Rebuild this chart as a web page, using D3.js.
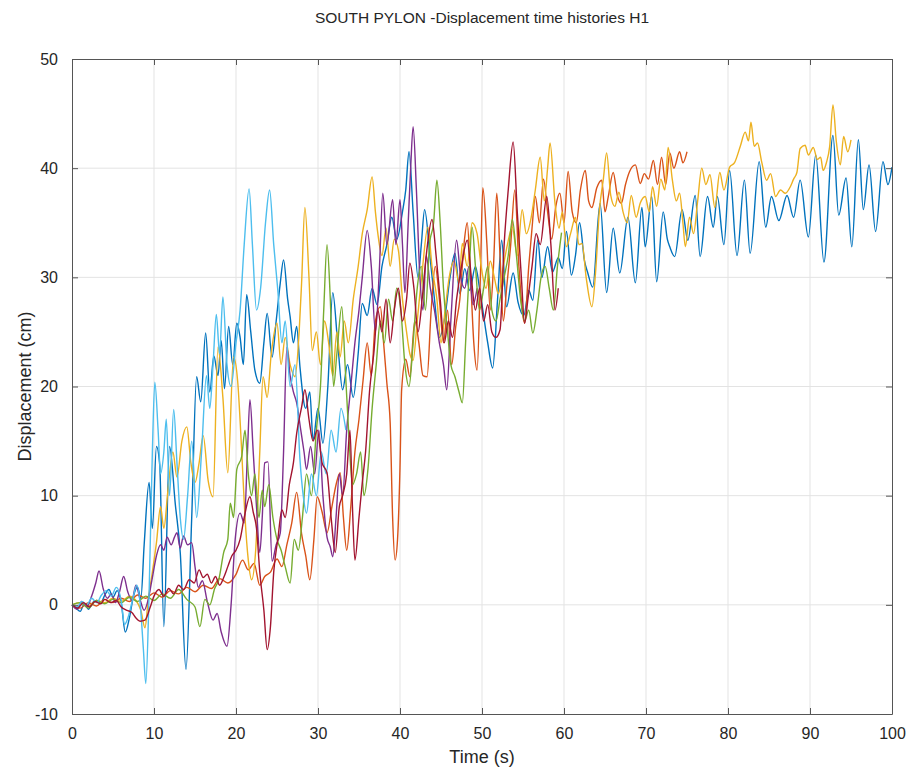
<!DOCTYPE html>
<html>
<head>
<meta charset="utf-8">
<script src="https://cdn.jsdelivr.net/npm/d3@7"></script>
<style>
  body { margin: 0; background: #fff; }
  svg text { font-family: "Liberation Sans", Arial, sans-serif; fill: #262626; }
</style>
</head>
<body>
<svg id="chart"></svg>
<script>
// time histories, [time s, displacement cm]
const blue = [[0,0],[0.5,-0.3],[1,-0.6],[1.5,0.1],[2,-0.4],[2.5,0.2],[3,0.4],[3.5,0.2],[4,0.9],[4.5,1.4],[5,0.7],[5.5,1.3],[6,0.2],[6.5,-2.5],[7,-1.2],[7.5,0.8],[8,1.6],[8.4,0.6],[8.8,5.5],[9.4,11.2],[9.8,7],[10.3,14.5],[10.7,12.8],[11.2,-2],[11.9,14.5],[12.6,9.2],[13.2,4.8],[13.9,-5.9],[14.6,8],[15.2,20.9],[15.7,18.6],[16.3,24.9],[16.8,19.5],[17.3,22.8],[17.8,21],[18.2,24.2],[18.6,19.8],[19.1,25.5],[19.6,22],[20.1,25.8],[20.5,24.5],[20.9,22],[21.3,28.4],[21.8,25],[22.3,21.5],[22.9,20.3],[23.4,24],[23.8,26.7],[24.4,22.7],[24.9,26],[25.4,29.5],[25.8,31.6],[26.3,28],[26.6,26.4],[27,24],[27.4,25.5],[27.8,21.8],[28.5,18],[29,19.5],[29.4,15.1],[30,18],[30.6,14.8],[31.2,20],[31.8,28.6],[32.4,24],[33,19.7],[33.6,22],[34.3,19],[34.9,23],[35.4,27.6],[36,26.5],[36.6,29],[37.2,27.5],[37.8,31],[38.4,33],[39,35.5],[39.6,33.5],[40.3,36],[40.7,38],[41.1,41.5],[41.6,36],[42.2,30],[42.6,33],[43,36.2],[43.7,31.6],[44.2,28],[44.8,24.5],[45.5,26.5],[46.1,30],[46.7,32.2],[47.3,28.5],[47.9,30.8],[48.5,28.8],[49.2,31],[49.7,29],[50.1,27],[50.7,24],[51.3,21.7],[51.9,28],[52.4,33.4],[53,27.3],[53.8,30.4],[54.4,27.7],[55.1,26.5],[55.7,28.8],[56.2,27.9],[56.8,33.4],[57.3,30],[58,32.8],[58.6,30.5],[59.3,31.8],[59.8,30.8],[60.3,34.2],[60.9,30.2],[61.4,32],[61.9,35],[62.5,31.5],[62.9,30.4],[63.5,29.1],[64.4,36.8],[65.2,28.6],[66,34.5],[66.8,30.4],[67.8,35.5],[68.7,29.5],[69.5,36.4],[69.9,32.8],[70.7,37.4],[71.3,29.6],[72.1,36],[72.6,33.5],[72.9,32.8],[73.5,31.9],[74.4,36.2],[75.1,33.4],[76,37.5],[76.6,31.9],[77.5,37.4],[78.2,34.6],[78.7,37.4],[79.5,33],[80.2,39.8],[81.1,32],[82,38.9],[82.7,32.2],[83.8,40.6],[84.6,34.6],[85.3,37.4],[86.2,35.2],[87.2,37.5],[88,35.5],[88.8,38.9],[89.8,33.7],[90.7,41.2],[91.7,31.4],[92.8,43],[93.5,35.7],[94.4,39.1],[95.1,32.8],[95.9,42.6],[96.5,36.2],[97.2,40.3],[98,34.2],[98.9,40.6],[99.5,38.5],[100,40.1]];

const orange = [[0,0],[1,-0.3],[2,0.2],[3,-0.1],[4,0.5],[5,0.2],[6,0.6],[7,0.3],[8,0.9],[9,0.6],[10,1.1],[11,0.7],[12,1.3],[13,1],[14,1.6],[15,1.2],[16,1.8],[17,1.5],[18,2.4],[19,2],[20,2.8],[20.8,4.1],[21.5,3.2],[22.2,3.8],[22.9,1.8],[23.5,2.6],[24.2,3],[25,4.2],[25.6,3.5],[26.2,5.5],[26.8,7.5],[27.4,10.3],[28,6.5],[28.5,4.5],[29,2.3],[29.5,6],[29.9,9.9],[30.5,8.5],[31.1,6.6],[31.7,9],[32.2,11],[32.7,12.1],[33.1,8],[33.5,5],[34,9],[34.5,14],[35,17],[35.5,20.6],[36,24],[36.5,21],[37,26],[37.6,27.3],[38,24],[38.4,20.3],[38.8,16.7],[39.1,8],[39.4,4.1],[39.7,6],[40,12.6],[40.2,19.7],[40.7,22.5],[41.2,20.9],[41.8,26],[42.3,24],[42.8,21],[43.3,20.9],[43.8,27],[44.3,31],[44.8,28],[45.3,24],[45.8,27],[46.3,22],[46.8,25.5],[47.3,28],[47.8,33],[48.2,35],[48.6,30],[49,24],[49.4,21.5],[49.8,30],[50.1,38.2],[50.6,33],[51,27],[51.4,31],[51.8,37.7],[52.2,32],[52.6,26],[53,29],[53.5,33],[54,38],[54.5,31],[55.2,25.8],[55.7,31],[56.1,34.5],[56.5,37.4],[57,35],[57.5,39],[58,36],[58.5,33.5],[59,36.5],[59.5,37.7],[60,35],[60.5,39.7],[61,36],[61.5,35],[62,38],[62.6,39.8],[63,37],[63.4,36.4],[64,38.2],[64.6,38.9],[65,36],[65.4,37.4],[66,39.6],[66.5,37.5],[67,36.8],[67.5,38.5],[68,39.7],[68.7,40.3],[69.3,38.6],[69.8,39.5],[70.3,39],[70.9,40.7],[71.4,38.5],[71.9,41],[72.4,38.5],[72.9,41.4],[73.4,40],[74.1,41.5],[74.5,40.5],[75,41.5]];

const yellow = [[0,0],[1,0.2],[2,-0.1],[3,0.4],[4,0.2],[5,0.6],[6,0.3],[7,0.8],[7.8,0.4],[8.4,-0.5],[8.9,-2.1],[9.3,0.5],[9.8,3],[10.3,5.7],[10.8,9],[11.2,7],[11.7,10.5],[12.3,14],[12.8,11.7],[13.4,15],[14,16.3],[14.5,13],[15,11.2],[15.5,13],[16,15.5],[16.6,11.4],[17.2,9.9],[17.8,23.6],[18.4,19],[19,12.1],[19.7,22.7],[20.2,20.5],[20.7,14],[21.1,8],[21.5,4.1],[21.9,2.3],[22.4,5],[22.9,14],[23.3,20.9],[23.8,19],[24.3,23],[25,25.8],[25.5,22],[26,24.5],[26.6,22],[27.2,20.9],[27.7,25],[28,29.5],[28.4,36.4],[28.9,30],[29.3,23.3],[29.8,25],[30.3,22],[30.8,26],[31.3,24],[31.8,21],[32.3,25],[32.7,22.7],[33.2,26],[33.7,24],[34.3,28],[34.9,31],[35.4,34],[36,36.2],[36.6,39.2],[37,36],[37.3,34],[37.8,32],[38.3,34.5],[38.8,31],[39.3,33.5],[39.8,32.5],[40.3,28],[40.8,25],[41.2,23],[41.6,22.4],[42.1,26],[42.7,30.5],[43.4,34.6],[43.9,31],[44.5,28],[45,24],[45.5,27],[46,30],[46.6,31.5],[47.2,29.5],[47.6,33.1],[48.2,31],[48.8,35],[49.4,34],[49.9,31],[50.5,29],[51,31.5],[51.5,30],[52,28.5],[52.6,31],[53.1,33],[53.7,34.6],[54.3,32],[54.9,36.2],[55.4,34],[56,35.5],[56.5,38],[57.1,41],[57.6,37],[58,40],[58.3,42.3],[58.9,36.8],[59.4,34.5],[59.8,36],[60.3,32.8],[60.8,34],[61.4,35.5],[61.8,33],[62.2,33.1],[62.7,30],[63.4,27.3],[63.9,31],[64.3,36],[64.8,39],[65.2,41.4],[65.7,37.5],[66.2,36.5],[66.7,37.8],[67.2,36],[67.7,35],[68.2,37.5],[68.8,35.5],[69.3,36.8],[69.9,37.4],[70.4,36],[70.8,38.3],[71.3,36.5],[71.8,39],[72.3,38],[72.7,41.9],[73.2,39],[73.7,37],[74.1,37.7],[74.5,35],[74.8,32.8],[75.3,35.5],[75.8,34],[76.3,37],[76.8,40],[77.3,38.5],[77.8,39.4],[78.4,36.4],[79,39.6],[79.5,38],[80.2,40.1],[80.8,40.5],[81.5,42],[82.1,43.3],[82.5,42.5],[82.8,44.2],[83.2,42],[83.6,42.3],[84.1,40.6],[84.7,38.9],[85.2,39.5],[85.8,37.4],[86.4,38],[87,37.7],[87.6,38.3],[88,39],[88.4,39.6],[88.8,41.8],[89.4,42.1],[89.8,41.2],[90.4,41.9],[90.9,40.8],[91.3,41],[91.6,39.8],[92,40.5],[92.4,42],[92.8,45.8],[93.2,42.5],[93.7,40.3],[94.1,42.9],[94.6,41.5],[95,42.6]];

const purple = [[0,0],[0.6,-0.4],[1.2,0.3],[1.8,-0.2],[2.4,0.8],[2.9,2],[3.3,3.1],[3.8,1.5],[4.3,0.6],[4.8,1],[5.3,0.2],[5.8,1.2],[6.3,2.6],[6.8,1.2],[7.3,0.4],[7.8,1.8],[8.3,0.5],[8.8,-0.5],[9.3,0.5],[9.8,2.5],[10.3,4.5],[10.8,5.5],[11.2,5],[11.6,6.2],[12.1,5.5],[12.5,6.2],[12.8,6.6],[13.2,5.2],[13.6,6.3],[14.1,5.5],[14.6,5.7],[15,3.5],[15.4,1.6],[15.9,2.2],[16.5,0.3],[17.2,-1.4],[17.7,-0.8],[18.2,-2.5],[18.9,-3.8],[19.4,0],[19.9,6],[20.5,8.4],[21,7.5],[21.4,14],[21.7,18.8],[22.1,14],[22.5,9],[22.9,4.8],[23.2,8],[23.5,13],[23.9,13.1],[24.4,4],[24.9,5.5],[25.4,6.6],[25.8,14],[26.2,23.6],[26.6,21],[27,19.5],[27.4,18.5],[27.9,16],[28.3,14],[28.6,12.4],[29.1,14.5],[29.6,12],[30.1,16],[30.6,10],[31.1,6.2],[31.5,5.3],[31.8,4.4],[32.2,8],[32.6,12],[33,10],[33.5,16],[34,20],[34.5,24],[35,27],[35.4,30],[36,34.3],[36.5,31],[37,25],[37.5,31],[37.9,37.7],[38.4,33],[39.1,37.1],[39.5,33],[40,37.1],[40.3,33],[40.6,28.6],[41,35],[41.3,40],[41.6,43.8],[42,38],[42.4,30.4],[42.8,27],[43.2,32],[43.7,29],[44.2,27],[44.8,24],[45.3,22],[45.7,19.7],[46.2,26],[46.9,33.4],[47.4,30],[47.9,29],[48.4,31],[48.9,27.5],[49.4,29]];

const green = [[0,0],[1,0.2],[2,-0.3],[3,0.4],[4,0.1],[5,0.5],[6,0.2],[7,0.7],[8,0.3],[9,0.8],[10,0.4],[11,1],[12,0.6],[13,1.4],[14,0.5],[15,-0.2],[15.6,-2],[16.2,0.5],[16.8,0],[17.4,1.5],[17.9,2.3],[18.5,4.8],[19,6],[19.3,9.3],[19.7,8],[20.1,12.4],[20.7,13.6],[21.1,16],[21.5,12],[21.9,10],[22.3,12],[22.8,8],[23.2,10.5],[23.5,9],[24,11],[24.5,8],[25,6],[25.5,5],[26,3.5],[26.6,2],[27.1,6],[27.6,5],[28.1,8],[28.6,12],[29.2,10],[29.8,16],[30.3,20],[30.7,27],[31.1,33],[31.5,28],[31.9,20],[32.3,23],[32.9,27.3],[33.3,22],[33.8,15],[34.2,11],[34.7,12],[35.2,14],[35.6,10],[36.1,12.5],[36.6,18],[37.1,22],[37.6,26],[38.1,24],[38.6,28],[39.1,26],[39.6,29],[40.1,27],[40.6,22],[41.1,20],[41.6,24],[42.1,29],[42.6,31],[43.1,27],[43.6,33],[44.1,35],[44.5,38.9],[44.9,35],[45.3,29],[45.8,25],[46.2,22],[46.7,20.9],[47.2,19.5],[47.6,18.5],[48,24],[48.4,30],[48.8,34.6],[49.2,31],[49.7,27],[50.2,29],[50.7,31],[51.2,27],[51.7,26],[52.2,28],[52.7,30],[53.2,32],[53.7,35.3],[54.2,32],[54.7,28],[55.2,26],[55.7,27],[56.2,24.9],[56.7,27],[57.2,30],[57.7,31],[58.2,29],[58.7,27],[59.2,31],[59.7,34.1]];

const lightBlue = [[0,0],[0.6,-0.2],[1.2,0.3],[1.8,0],[2.4,0.6],[3,0.2],[3.6,0.9],[4.2,1.3],[4.8,0.8],[5.4,1.6],[6,0.4],[6.4,-1.8],[6.9,-1],[7.4,0.5],[7.9,1.8],[8.3,0.2],[8.7,-4],[9,-7.2],[9.4,1],[9.8,14],[10.1,20.4],[10.5,16],[10.8,12],[11.2,14],[11.5,17],[11.9,10],[12.4,17.9],[12.8,13],[13.2,8],[13.6,6],[14.1,10],[14.6,15],[15.2,8],[15.8,14],[16.4,21],[16.8,18],[17.2,22],[17.6,26.6],[18,23],[18.4,28.2],[18.9,22],[19.4,20],[20,24],[20.5,27],[21,33],[21.6,38.1],[22,33],[22.5,27],[23,29],[23.6,35],[24.1,38],[24.6,33],[25.1,28.8],[25.6,24],[26,26],[26.6,20],[27.2,22],[27.8,13.3],[28.2,10],[28.6,8.4],[29.2,12],[29.8,10],[30.4,14],[31,12],[31.6,16],[32.2,14],[32.8,18],[33.4,16]];

const darkRed = [[0,0],[0.7,-0.3],[1.4,0.2],[2.1,-0.2],[2.8,0.3],[3.5,0.1],[4,0.5],[4.7,0.2],[5.4,0.4],[6,-0.2],[6.7,-0.5],[7.3,-0.7],[7.8,-1.2],[8.3,-1.5],[8.9,-1.4],[9.5,-0.3],[10,0.8],[10.6,1.4],[11.2,0.8],[11.8,1.5],[12.4,1],[13,1.8],[13.6,1.4],[14.3,2.3],[14.9,2],[15.5,3.2],[16,2.5],[16.5,2.8],[17,2],[17.5,2.6],[18,1.8],[18.5,2.5],[19,3.5],[19.5,4.5],[20,5],[20.5,6],[21,8],[21.7,9.9],[22.1,8.5],[22.5,7],[22.9,3],[23.4,-0.5],[23.8,-4.1],[24.2,-2],[24.6,3],[25.1,6],[25.6,8.7],[26,8],[26.5,11],[27,13],[27.4,15.7],[28,18.1],[28.4,19.7],[28.9,17],[29.4,15],[29.9,16],[30.5,13],[31.1,12.1],[31.6,8],[32.1,4.8],[32.6,9],[33,10],[33.5,12],[33.9,16],[34.2,9],[34.5,4.1],[35,8],[35.4,11.2],[35.8,14],[36.3,19.7],[36.8,23],[37.3,27],[37.8,25],[38.3,28],[38.8,24],[39.3,27],[39.8,29],[40.3,26],[40.8,28],[41.2,31.3],[41.7,29],[42.2,25],[42.7,28],[43.2,32],[43.9,35.3],[44.4,32],[44.9,28],[45.4,24],[45.9,26],[46.4,24.5],[46.9,28],[47.5,31],[48.2,33.4],[48.7,30],[49.2,27],[49.7,29],[50.2,26],[50.7,27.5],[51.2,25],[51.7,24.5],[52.2,25.2],[52.7,33],[53.2,38],[53.8,42.4],[54.3,36],[54.8,30],[55.2,25.8],[55.6,28],[56.1,31],[56.6,34],[57.1,33],[57.9,37.4],[58.4,33],[58.9,27],[59.3,29]];

const seriesData = [blue, orange, yellow, purple, green, lightBlue, darkRed];
const seriesColors = ["#0072BD", "#D95319", "#EDB120", "#7E2F8E", "#77AC30", "#4DBEEE", "#A2142F"];
const xTicks = [0, 10, 20, 30, 40, 50, 60, 70, 80, 90, 100];
const yTicks = [-10, 0, 10, 20, 30, 40, 50];

const width = 909, height = 770;
const margin = {top: 59, right: 17, bottom: 56, left: 72};

const svg = d3.select("#chart")
    .attr("width", width)
    .attr("height", height);

const x = d3.scaleLinear().domain([0, 100]).range([margin.left, width - margin.right]);
const y = d3.scaleLinear().domain([-10, 50]).range([height - margin.bottom, margin.top]);

// grid
svg.append("g")
    .selectAll("line")
    .data(xTicks.slice(1, -1))
    .enter().append("line")
    .attr("x1", d => x(d)).attr("x2", d => x(d))
    .attr("y1", y(-10)).attr("y2", y(50))
    .attr("stroke", "#e3e3e3");

svg.append("g")
    .selectAll("line")
    .data(yTicks.slice(1, -1))
    .enter().append("line")
    .attr("x1", x(0)).attr("x2", x(100))
    .attr("y1", d => y(d)).attr("y2", d => y(d))
    .attr("stroke", "#e3e3e3");

// lines
const line = d3.line()
    .x(d => x(d[0]))
    .y(d => y(d[1]))
    .curve(d3.curveMonotoneX);

svg.append("g")
    .selectAll("path")
    .data(seriesData)
    .enter().append("path")
    .attr("d", line)
    .attr("fill", "none")
    .attr("stroke", (d, i) => seriesColors[i])
    .attr("stroke-width", 1.4)
    .attr("stroke-linejoin", "round");

// axes, ticks pointing inward on all four sides
const axisColor = "#555";
const plain = d => String(d);   // keep a plain hyphen for -10
const bottomAxis = svg.append("g")
    .attr("transform", `translate(0,${y(-10)})`)
    .call(d3.axisBottom(x).tickValues(xTicks).tickFormat(plain).tickSizeInner(-6).tickSizeOuter(0).tickPadding(14));
const leftAxis = svg.append("g")
    .attr("transform", `translate(${x(0)},0)`)
    .call(d3.axisLeft(y).tickValues(yTicks).tickFormat(plain).tickSizeInner(-6).tickSizeOuter(0).tickPadding(14));
const topAxis = svg.append("g")
    .attr("transform", `translate(0,${y(50)})`)
    .call(d3.axisTop(x).tickValues(xTicks).tickSizeInner(-6).tickSizeOuter(0).tickFormat(""));
const rightAxis = svg.append("g")
    .attr("transform", `translate(${x(100)},0)`)
    .call(d3.axisRight(y).tickValues(yTicks).tickSizeInner(-6).tickSizeOuter(0).tickFormat(""));

[bottomAxis, leftAxis, topAxis, rightAxis].forEach(g => {
    g.select(".domain").attr("stroke", axisColor);
    g.selectAll(".tick line").attr("stroke", axisColor);
    g.selectAll(".tick text").attr("font-size", 16).attr("fill", "#262626");
});
bottomAxis.selectAll(".tick text").attr("dy", "0.71em");

svg.append("text")
    .attr("x", (x(0) + x(100)) / 2)
    .attr("y", 23)
    .attr("text-anchor", "middle")
    .attr("font-size", 15.5)
    .text("SOUTH PYLON -Displacement time histories H1");

svg.append("text")
    .attr("x", (x(0) + x(100)) / 2)
    .attr("y", 763)
    .attr("text-anchor", "middle")
    .attr("font-size", 18)
    .text("Time (s)");

svg.append("text")
    .attr("transform", `translate(31,${(y(-10) + y(50)) / 2}) rotate(-90)`)
    .attr("text-anchor", "middle")
    .attr("font-size", 18)
    .text("Displacement (cm)");
</script>
</body>
</html>
